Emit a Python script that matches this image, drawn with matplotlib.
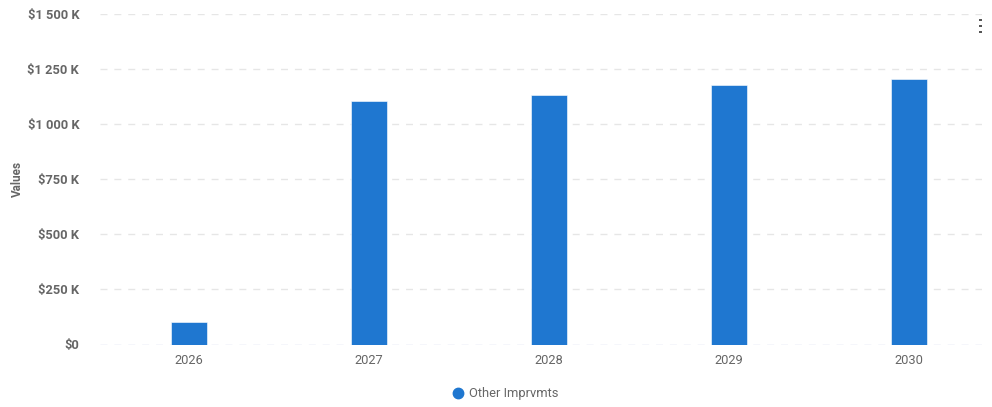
import matplotlib
matplotlib.use("Agg")
import matplotlib.pyplot as plt
from matplotlib.ticker import FuncFormatter
from matplotlib.lines import Line2D

years = ["2026", "2027", "2028", "2029", "2030"]
values = [100, 1106, 1133, 1178, 1205]  # thousands of dollars
series_name = "Other Imprvmts"
yticks = [0, 250, 500, 750, 1000, 1250, 1500]

plt.rcParams['font.family'] = ['Roboto', 'DejaVu Sans']

W, H = 992, 407
fig = plt.figure(figsize=(W / 100, H / 100), dpi=100)
left, right = 100 / W, 982 / W
bottom, top = 1 - 344.5 / H, 1 - 14 / H
ax = fig.add_axes([left, bottom, right - left, top - bottom])

x = list(range(len(years)))
ax.bar(x, values, width=0.2, color="#1f77d0", edgecolor="#ffffff", linewidth=0.4, zorder=3)

ax.set_xlim(-0.494, 4.406)
ax.set_ylim(0, 1500)
ax.set_yticks(yticks)


def fmt(v, pos):
    v = int(round(v))
    if v == 0:
        return "$0"
    s = f"{v:,}".replace(",", " ")
    return f"${s} K"


ax.yaxis.set_major_formatter(FuncFormatter(fmt))
ax.set_xticks(x)
ax.set_xticklabels(years)

for t in yticks:
    c = "#ccd6eb" if t == 0 else "#e6e6e6"
    ax.axhline(t, color=c, linestyle=(0, (5, 5)), linewidth=1, zorder=1)

for s in ax.spines.values():
    s.set_visible(False)
ax.tick_params(axis="y", length=0, pad=15, labelsize=9.3, labelcolor="#666666")
ax.tick_params(axis="x", length=0, pad=7, labelsize=9.3, labelcolor="#666666")
for lbl in ax.get_yticklabels():
    lbl.set_fontweight("bold")

fig.text(17 / W, 1 - 179 / H, "Values", rotation=90, ha="center", va="center",
         fontsize=8.5, fontweight="bold", color="#666666")

handle = Line2D([], [], marker="o", linestyle="none", markersize=7.5,
                markerfacecolor="#1f77d0", markeredgecolor="#1f77d0")
fig.legend([handle], [series_name], loc="center", bbox_to_anchor=(505 / W, 1 - 394 / H),
           frameon=False, fontsize=9.3, labelcolor="#666666", handletextpad=0.4,
           borderpad=0, handlelength=1)

for yy in (20, 26, 32):
    fig.patches.append(plt.Rectangle((979 / W, 1 - (yy + 1.2) / H), 3 / W, 2.4 / H,
                                     transform=fig.transFigure, facecolor="#555555",
                                     edgecolor="none"))

fig.savefig("out.png", dpi=100, facecolor="white")
